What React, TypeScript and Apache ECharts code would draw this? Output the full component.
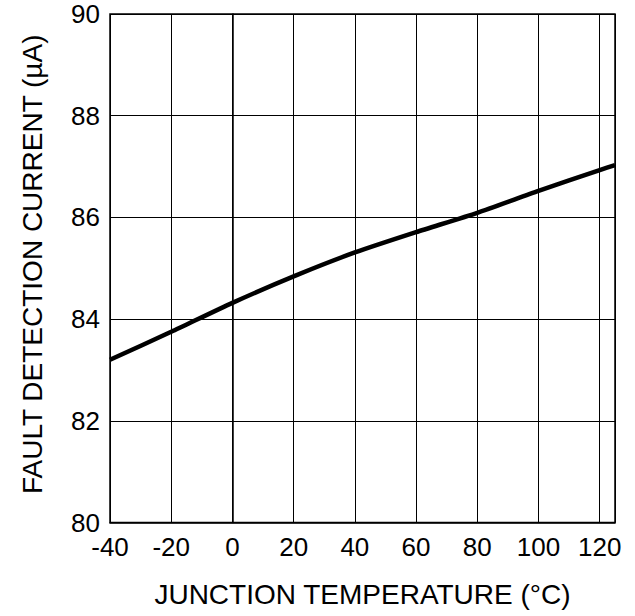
import React, { useEffect, useRef } from "react";
import * as echarts from "echarts";

const temperatures = [-40, -20, 0, 20, 40, 60, 80, 100, 120, 125];
const faultCurrent = [83.2, 83.75, 84.32, 84.84, 85.31, 85.71, 86.09, 86.52, 86.93, 87.03];
const xTicks = { min: -40, max: 125, interval: 20 };
const yTicks = { min: 80, max: 90, interval: 2 };
const xTitle = "JUNCTION TEMPERATURE (°C)";
const yTitle = "FAULT DETECTION CURRENT (µA)";

const FONT = "'Liberation Sans', Arial, sans-serif";

export default function App() {
  const ref = useRef<HTMLDivElement>(null);
  useEffect(() => {
    if (!ref.current) return;
    const chart = echarts.init(ref.current, undefined, { renderer: "svg" });
    chart.setOption({
      animation: false,
      backgroundColor: "#ffffff",
      grid: {
        left: 110,
        right: 20,
        top: 14,
        bottom: 93.5,
        show: true,
        borderColor: "#000",
        borderWidth: 1.5,
        backgroundColor: "transparent",
      },
      xAxis: {
        type: "value",
        min: xTicks.min,
        max: xTicks.max,
        interval: xTicks.interval,
        name: xTitle,
        nameLocation: "middle",
        nameGap: 58,
        nameTextStyle: { fontFamily: FONT, fontSize: 28, color: "#000" },
        axisLine: { show: true, lineStyle: { color: "#000", width: 1.5 } },
        axisTick: { show: false },
        axisLabel: {
          fontFamily: FONT,
          fontSize: 26,
          lineHeight: 22,
          color: "#000",
          margin: 13,
          showMaxLabel: false,
          formatter: (v: number) => (v === xTicks.max ? "" : String(v)),
        },
        splitLine: { show: true, lineStyle: { color: "#000", width: 1 } },
      },
      yAxis: {
        type: "value",
        min: yTicks.min,
        max: yTicks.max,
        interval: yTicks.interval,
        name: yTitle,
        nameLocation: "middle",
        nameGap: 64,
        nameTextStyle: { fontFamily: FONT, fontSize: 28, color: "#000", padding: [0, 0, 0, 8] },
        axisLine: { show: true, lineStyle: { color: "#000", width: 1.5 } },
        axisTick: { show: false },
        axisLabel: { fontFamily: FONT, fontSize: 26, lineHeight: 22, color: "#000", margin: 10 },
        splitLine: { show: true, lineStyle: { color: "#000", width: 1 } },
      },
      series: [
        {
          type: "line",
          data: temperatures.map((t, i) => [t, faultCurrent[i]]),
          smooth: 0.2,
          showSymbol: false,
          lineStyle: { color: "#000", width: 4.5 },
          z: 5,
        },
      ],
    });
    return () => chart.dispose();
  }, []);
  return (
    <div
      ref={ref}
      style={{ position: "fixed", left: 0, top: 0, width: 635, height: 616 }}
    />
  );
}
